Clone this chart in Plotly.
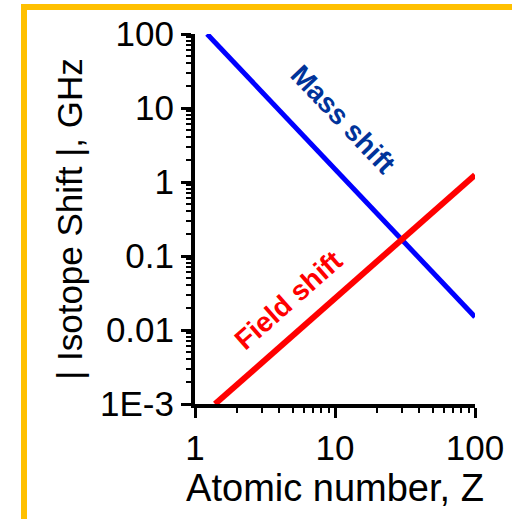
import plotly.graph_objects as go

# Data
mass_z = [1.22, 100]
mass_shift = [100, 0.015]
field_z = [1.39, 100]
field_shift = [0.001, 1.24]

y_tickvals = [0.001, 0.01, 0.1, 1, 10, 100]
y_ticktext = ["1E-3", "0.01", "0.1", "1", "10", "100"]
x_tickvals = [1, 10, 100]
x_ticktext = ["1", "10", "100"]

FONT = "Liberation Sans, Arial, sans-serif"

def minor_vals(lo_exp, hi_exp):
    return [m * 10 ** e for e in range(lo_exp, hi_exp) for m in range(2, 10)]

fig = go.Figure()
fig.add_trace(go.Scatter(x=mass_z, y=mass_shift, mode="lines",
                         line=dict(color="#0000FF", width=5), showlegend=False))
fig.add_trace(go.Scatter(x=field_z, y=field_shift, mode="lines",
                         line=dict(color="#FF0000", width=6), showlegend=False))

W, H = 512, 519
L, R, T, B = 195, 37, 34, 115
pw, ph = W - L - R, H - T - B

def px2paper(px, py):
    return (px - L) / pw, (H - B - py) / ph

x0, y1 = px2paper(24, 7)
x1, y0 = px2paper(560, 560)
fig.add_shape(type="rect", xref="paper", yref="paper", x0=x0, y0=y0, x1=x1, y1=y1,
              line=dict(color="#FFC000", width=6), fillcolor="rgba(0,0,0,0)", layer="below")

fig.add_annotation(x=1.057, y=0.838, xref="x", yref="y",
                   text="<b>Mass shift</b>", showarrow=False, textangle=46.5,
                   font=dict(family=FONT, size=28, color="#00339A"))
fig.add_annotation(x=0.664, y=-1.595, xref="x", yref="y",
                   text="<b>Field shift</b>", showarrow=False, textangle=-41.5,
                   font=dict(family=FONT, size=28, color="#FF0000"))

fig.update_xaxes(type="log", range=[0, 2], tickvals=x_tickvals, ticktext=x_ticktext,
                 showline=True, linewidth=4, linecolor="black", mirror=False,
                 ticks="outside", ticklen=10, tickwidth=3, tickcolor="black",
                 minor=dict(ticks="outside", ticklen=5, tickwidth=2, tickcolor="black",
                            tickvals=minor_vals(0, 2)),
                 showgrid=False, zeroline=False,
                 tickfont=dict(family=FONT, size=35, color="black"),
                 title=dict(text="Atomic number, Z", font=dict(family=FONT, size=38, color="black"),
                            standoff=3))
fig.update_yaxes(type="log", range=[-3, 2], tickvals=y_tickvals, ticktext=y_ticktext,
                 showline=True, linewidth=4, linecolor="black", mirror=False,
                 ticks="outside", ticklen=10, tickwidth=3, tickcolor="black",
                 minor=dict(ticks="outside", ticklen=5, tickwidth=2, tickcolor="black",
                            tickvals=minor_vals(-3, 2)),
                 showgrid=False, zeroline=False,
                 tickfont=dict(family=FONT, size=35, color="black"),
                 title=dict(text="| Isotope Shift |, GHz", font=dict(family=FONT, size=35, color="black"),
                            standoff=8))

fig.update_layout(width=W, height=H, margin=dict(l=L, r=R, t=T, b=B, autoexpand=False),
                  plot_bgcolor="white", paper_bgcolor="white")

fig.write_html("out.html", config={"displayModeBar": False},
               post_script="document.body.style.margin='0';")
